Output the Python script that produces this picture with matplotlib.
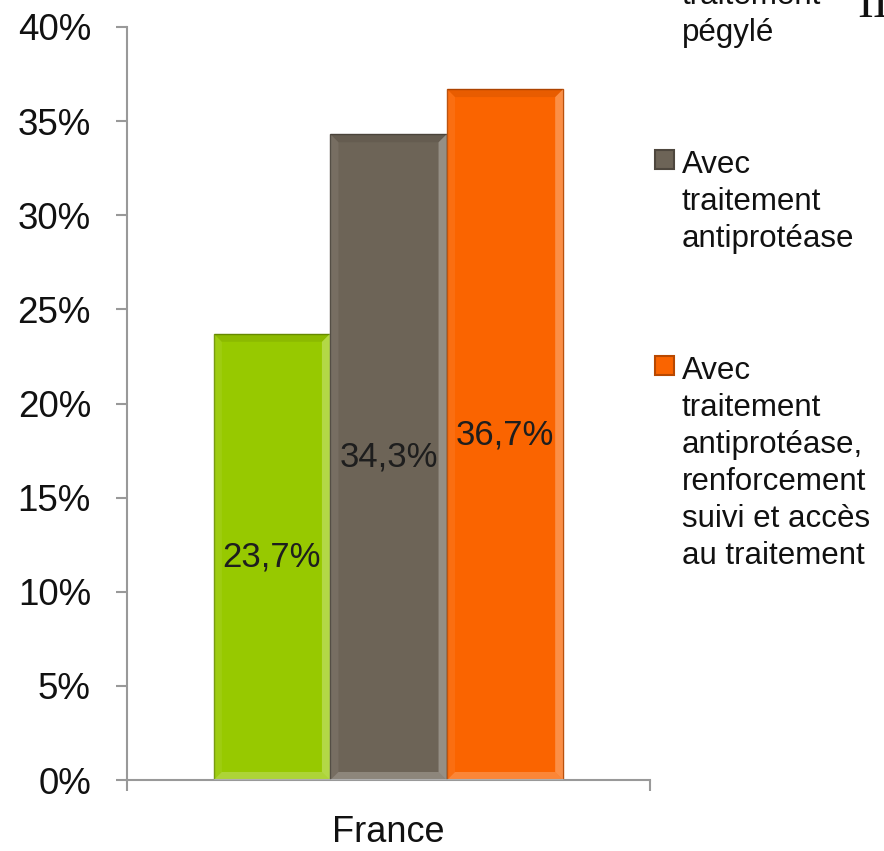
import numpy as np
import matplotlib
matplotlib.use("Agg")
import matplotlib.pyplot as plt
from matplotlib.patches import Polygon, Rectangle

plt.rcParams['font.family'] = ['Liberation Sans', 'DejaVu Sans']

# data
category = "France"
series = [
    "Avec\ntraitement\npégylé",
    "Avec\ntraitement\nantiprotéase",
    "Avec\ntraitement\nantiprotéase,\nrenforcement\nsuivi et accès\nau traitement",
]
values = [23.7, 34.3, 36.7]
value_labels = ["23,7%", "34,3%", "36,7%"]
yticks = [0, 5, 10, 15, 20, 25, 30, 35, 40]
ytick_labels = ["0%", "5%", "10%", "15%", "20%", "25%", "30%", "35%", "40%"]

colors = ["#97C900", "#6D6457", "#FA6400"]
edges = ["#6E9400", "#4E473E", "#B84800"]

W, H = 884, 851
fig = plt.figure(figsize=(W / 100, H / 100), dpi=100)
ax = fig.add_axes([127 / W, 1 - 780 / H, 523 / W, 753 / H])

bar_w = 0.222
offsets = [-0.223, 0.0, 0.223]
bars = ax.bar(offsets, values, bar_w, color=colors, edgecolor=edges, linewidth=1.0, zorder=2)

# bevel frame on each bar (about 8 px wide)
px_x = 1.0 / 523
px_y = 40.0 / 753
bx, by = 8 * px_x, 8 * px_y
for b in bars:
    x0, x1 = b.get_x(), b.get_x() + b.get_width()
    top = b.get_height()
    faces = [
        ([(x0, top), (x1, top), (x1 - bx, top - by), (x0 + bx, top - by)], "black", 0.07),
        ([(x0, 0), (x1, 0), (x1 - bx, by), (x0 + bx, by)], "white", 0.22),
        ([(x0, 0), (x0, top), (x0 + bx, top - by), (x0 + bx, by)], "white", 0.07),
        ([(x1, 0), (x1, top), (x1 - bx, top - by), (x1 - bx, by)], "white", 0.28),
    ]
    for pts, c, a in faces:
        ax.add_patch(Polygon(pts, closed=True, facecolor=c, alpha=a, edgecolor="none", zorder=3))

for b, lab in zip(bars, value_labels):
    ax.text(b.get_x() + b.get_width() / 2, b.get_height() / 2, lab,
            ha="center", va="center", fontsize=25, color="#1E1E1E", zorder=4)

ax.set_xlim(-0.5, 0.5)
ax.set_ylim(0, 40)
ax.set_yticks(yticks)
ax.set_yticklabels(ytick_labels)
ax.set_xticks([0])
ax.set_xticklabels([category])
ax.set_xticks([-0.5, 0.5], minor=True)

ax.tick_params(axis="y", length=8, width=1.5, color="#999999", labelsize=26.5, pad=18, labelcolor="#111111")
ax.tick_params(axis="x", which="major", length=0, labelsize=26, pad=25, labelcolor="#111111")
ax.tick_params(axis="x", which="minor", length=8, width=1.5, color="#999999")

for s in ["top", "right"]:
    ax.spines[s].set_visible(False)
for s in ["left", "bottom"]:
    ax.spines[s].set_color("#999999")
    ax.spines[s].set_linewidth(1.5)

# legend on the right, one line of text at a time
line_h = 37
first_baseline = -33
entry_step = 206
for i, (lab, c, e) in enumerate(zip(series, colors, edges)):
    base = first_baseline + i * entry_step
    fig.add_artist(Rectangle((655 / W, 1 - (base - 4) / H), 19 / W, 19 / H,
                             transform=fig.transFigure, facecolor=c, edgecolor=e, linewidth=1.5))
    for j, line in enumerate(lab.split("\n")):
        fig.text(682 / W, 1 - (base + j * line_h) / H, line, ha="left", va="baseline",
                 fontsize=22.5, color="#111111")

fig.text(857 / W, 1 - 17 / H, "II", family="Liberation Serif", fontsize=34,
         ha="left", va="baseline", color="#111111")

fig.savefig("out.png", dpi=100)
